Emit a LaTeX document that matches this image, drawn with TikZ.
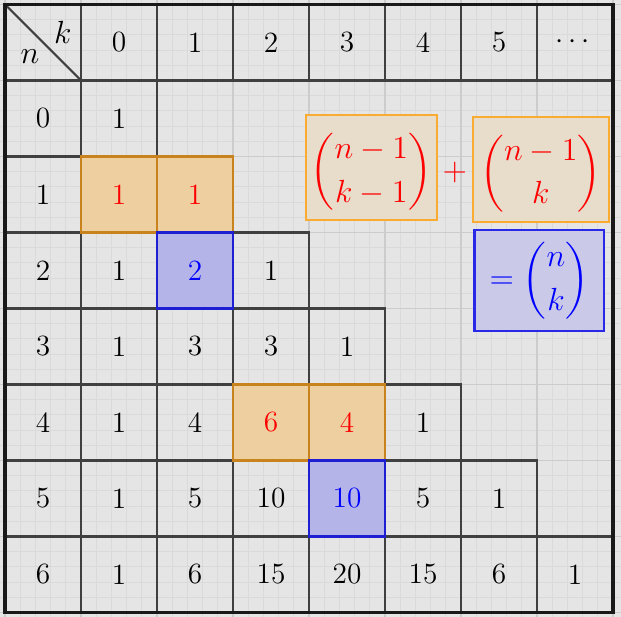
\documentclass[tikz,border=0pt]{standalone}
\usepackage{amsmath}
\usetikzlibrary{calc,positioning,backgrounds}
\definecolor{paper}{gray}{0.9}
\definecolor{finegrid}{gray}{0.855}
\definecolor{coarsegrid}{gray}{0.8}
\definecolor{sandfill}{RGB}{238,208,160}
\definecolor{sandline}{RGB}{200,130,30}
\definecolor{lilacfill}{RGB}{180,180,232}
\definecolor{lilacline}{RGB}{30,30,210}
\definecolor{sumfill}{RGB}{232,220,202}
\definecolor{sumline}{RGB}{250,172,50}
\definecolor{resfill}{RGB}{202,202,232}
\definecolor{resline}{RGB}{40,40,230}

\begin{document}
\begin{tikzpicture}[x=1cm,y=1cm]

\tikzset{cell/.style={font=\fontsize{11}{13}\selectfont,draw=black!75,line width=0.8pt,inner sep=0pt,outer sep=0pt,minimum size=1cm,shape=rectangle},
redcell/.style={fill=sandfill,text=red},
bluecell/.style={fill=lilacfill,text=blue},
cell 1-0/.style=redcell, cell 1-1/.style=redcell, cell 4-2/.style=redcell, cell 4-3/.style=redcell,
cell 2-1/.style=bluecell, cell 5-3/.style=bluecell,
sumbox/.style={font=\fontsize{13}{15}\selectfont,text=red,fill=sumfill,draw=sumline,line width=0.9pt,inner sep=0pt,minimum width=1.72cm,minimum height=1.38cm},
resbox/.style={font=\fontsize{11.5}{14}\selectfont,text=blue,fill=resfill,draw=resline,line width=0.9pt,inner sep=0pt,minimum width=1.71cm,minimum height=1.33cm}}

% Paper
\useasboundingbox (-0.066,-0.053) rectangle (8.105,8.059);
\fill[paper] (-0.066,-0.053) rectangle (8.105,8.059);
\draw[finegrid,line width=0.3pt,step=0.2] (-0.066,-0.053) grid (8.105,8.059);
\draw[coarsegrid,line width=0.4pt,step=1] (-0.066,-0.053) grid (8.105,8.059);

% Header row and column
\node[cell] (corner) at (0.5,7.5) {};
\draw[black!75,line width=0.8pt] (corner.north west) -- (corner.south east);
\node[font=\fontsize{12.5}{14}\selectfont] (klabel) at (0.76,7.63) {$k$};
\node[font=\fontsize{12.5}{14}\selectfont] (nlabel) at (0.33,7.31) {$n$};
\foreach \k/\t in {0/0,1/1,2/2,3/3,4/4,5/5,6/$\cdots$} \node[cell] (h\k) at (\k+1.5,7.5) {\t};
\foreach \n in {0,...,6} \node[cell] (r\n) at (0.5,6.5-\n) {\n};

% Pascal cells
\foreach \n in {0,...,6} \foreach \k in {0,...,\n} {
  \pgfmathtruncatemacro\b{round(factorial(\n)/(factorial(\k)*factorial(\n-\k)))}
  \node[cell,cell \n-\k/.try] (p\n\k) at (\k+1.5,6.5-\n) {\b};
}

% Highlight borders
\foreach \c in {p10,p11,p42,p43} \draw[sandline,line width=0.9pt] (\c.south west) rectangle (\c.north east);
\foreach \c in {p21,p53} \draw[lilacline,line width=0.9pt] (\c.south west) rectangle (\c.north east);

% Frame
\draw[black!90,line width=1.4pt] (corner.north west) rectangle (p66.south east);

% Rule
\node[sumbox] (upleft) at (4.82,5.855) {\raisebox{-1.7pt}[\height][\depth]{$\dbinom{n-1}{k-1}$}};
\node[sumbox,minimum width=1.79cm] (upright) at (7.05,5.83) {\raisebox{-1.7pt}[\height][\depth]{$\dbinom{n-1}{k}$}};
\node[text=red,font=\fontsize{13}{15}\selectfont] (plus) at (5.92,5.796) {$+$};
\node[resbox] (result) at (7.03,4.37) {$=\dbinom{n}{k}$};

\end{tikzpicture}
\end{document}
